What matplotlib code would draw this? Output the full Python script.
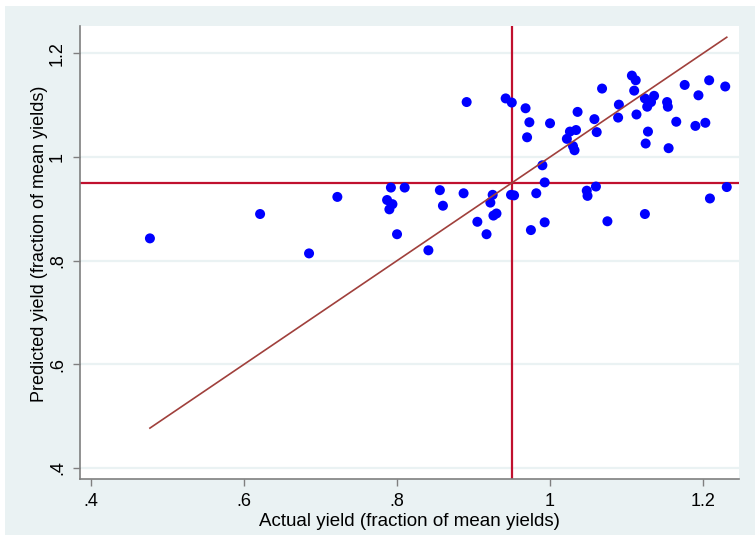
import matplotlib.pyplot as plt
from matplotlib.patches import Rectangle

plt.rcParams['font.family'] = ['Liberation Sans', 'DejaVu Sans']

# actual yield vs predicted yield (fractions of mean yields)
actual = [0.477, 0.621, 0.685, 0.722,
          0.792, 0.810, 0.787, 0.794, 0.790, 0.800,
          0.856, 0.860, 0.887, 0.841, 0.891,
          0.925, 0.922, 0.930, 0.926, 0.905, 0.917,
          0.949, 0.953, 0.982, 0.993, 0.990, 0.975, 0.993,
          0.942, 0.950, 0.968, 0.973, 0.970, 1.000,
          1.036, 1.058, 1.061, 1.034, 1.026, 1.022, 1.030, 1.032,
          1.068, 1.090, 1.089, 1.107, 1.112, 1.110, 1.113,
          1.124, 1.136, 1.132, 1.127, 1.128, 1.125,
          1.153, 1.154, 1.155, 1.165, 1.176, 1.194, 1.208, 1.229, 1.190, 1.203,
          1.048, 1.049, 1.060, 1.075, 1.124, 1.209, 1.231]
predicted = [0.843, 0.890, 0.814, 0.923,
             0.941, 0.941, 0.917, 0.909, 0.899, 0.851,
             0.936, 0.906, 0.930, 0.820, 1.106,
             0.927, 0.912, 0.891, 0.887, 0.875, 0.851,
             0.927, 0.926, 0.930, 0.951, 0.984, 0.859, 0.874,
             1.113, 1.105, 1.094, 1.067, 1.038, 1.065,
             1.087, 1.073, 1.048, 1.052, 1.049, 1.035, 1.021, 1.013,
             1.132, 1.101, 1.076, 1.157, 1.148, 1.128, 1.082,
             1.113, 1.118, 1.106, 1.097, 1.049, 1.026,
             1.106, 1.097, 1.017, 1.068, 1.139, 1.119, 1.148, 1.136, 1.060, 1.066,
             0.935, 0.925, 0.943, 0.876, 0.890, 0.920, 0.942]
ref_x = 0.95
ref_y = 0.95
xticks = [0.4, 0.6, 0.8, 1.0, 1.2]
xlabels = ['.4', '.6', '.8', '1', '1.2']
yticks = [0.4, 0.6, 0.8, 1.0, 1.2]
ylabels = ['.4', '.6', '.8', '1', '1.2']

bg = '#eaf2f3'
fig = plt.figure(figsize=(7.55, 5.37), dpi=100, facecolor='white')
fig.patches.append(Rectangle((5 / 755, 2 / 537), 750 / 755, 529 / 537,
                             transform=fig.transFigure, facecolor=bg,
                             edgecolor='none', zorder=-10))
ax = fig.add_axes([80 / 755, 58 / 537, 659 / 755, 453 / 537])
ax.set_facecolor('white')

for t in yticks:
    ax.axhline(t, color=bg, lw=1.6, zorder=0)

ax.axvline(ref_x, color='#c0102e', lw=1.6, zorder=2)
ax.axhline(ref_y, color='#c0102e', lw=1.6, zorder=2)

ax.scatter(actual, predicted, s=52, color='#0000ff', edgecolors='none', zorder=3)

lo, hi = min(actual), max(actual)
ax.plot([lo, hi], [lo, hi], color='#a0403c', lw=1.2, zorder=4)

ax.set_xlim(0.3856, 1.247)
ax.set_ylim(0.3788, 1.2527)
ax.set_xticks(xticks)
ax.set_xticklabels(xlabels, fontsize=13)
ax.set_yticks(yticks)
ax.set_yticklabels(ylabels, fontsize=13, rotation=90, va='center')
ax.tick_params(direction='out', length=5, width=1, color='#7f7f7f', pad=5)
for s in ['top', 'right']:
    ax.spines[s].set_visible(False)
for s in ['left', 'bottom']:
    ax.spines[s].set_color('#7f7f7f')
    ax.spines[s].set_linewidth(1.2)

ax.set_xlabel('Actual yield (fraction of mean yields)', fontsize=13.5, labelpad=2)
ax.set_ylabel('Predicted yield (fraction of mean yields)', fontsize=13, labelpad=6)
ax.yaxis.set_label_coords(-0.048, 0.52)

fig.savefig('out.png', dpi=100, facecolor='white')
